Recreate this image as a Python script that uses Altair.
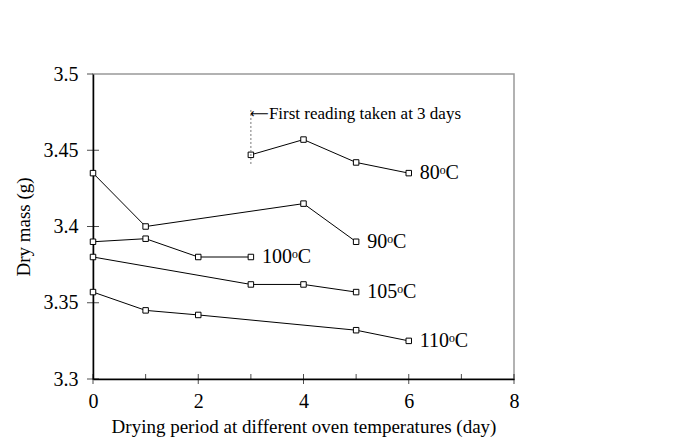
import altair as alt
import pandas as pd

# Data
series_names = ["80ᵒC", "90ᵒC", "100ᵒC", "105ᵒC", "110ᵒC"]
days_80 = [3, 4, 5, 6]
mass_80 = [3.447, 3.457, 3.442, 3.435]
days_90 = [0, 1, 4, 5]
mass_90 = [3.435, 3.400, 3.415, 3.390]
days_100 = [0, 1, 2, 3]
mass_100 = [3.390, 3.392, 3.380, 3.380]
days_105 = [0, 3, 4, 5]
mass_105 = [3.380, 3.362, 3.362, 3.357]
days_110 = [0, 1, 2, 5, 6]
mass_110 = [3.357, 3.345, 3.342, 3.332, 3.325]

x_major_ticks = [0, 2, 4, 6, 8]
x_minor_ticks = [1, 3, 5, 7]
y_cross_ticks = [3.3, 3.35, 3.4, 3.45]
y_outer_ticks = [3.5]

annot_day = [3]
annot_low = [3.441]
annot_high = [3.477]
annot_text_y = [3.474]
annot_text = ["First reading taken at 3 days"]
annot_arrow = ["⟵"]

FONT = "Liberation Serif"

rows = []
for name, ds, ms in zip(series_names,
                        [days_80, days_90, days_100, days_105, days_110],
                        [mass_80, mass_90, mass_100, mass_105, mass_110]):
    for d, m in zip(ds, ms):
        rows.append({"series": name, "day": d, "mass": m})
df = pd.DataFrame(rows)
last = df.groupby("series", sort=False).tail(1)

xs = alt.Scale(domain=[0, 8], nice=False)
ys = alt.Scale(domain=[3.3, 3.5], nice=False, zero=False)

x_enc = alt.X("day:Q", scale=xs,
              axis=alt.Axis(values=x_major_ticks, ticks=False, grid=False, labelFlush=False,
                            title="Drying period at different oven temperatures (day)",
                            labelFont=FONT, labelFontSize=20, labelColor="black",
                            labelPadding=12, titleFont=FONT, titleFontSize=19,
                            titleFontWeight="normal", titleColor="black",
                            titlePadding=6, domainColor="black", domainWidth=1.5))
y_enc = alt.Y("mass:Q", scale=ys,
              axis=alt.Axis(values=[3.3, 3.35, 3.4, 3.45, 3.5], ticks=False, grid=False,
                            labelFlush=False, format="~g", title="Dry mass (g)",
                            labelFont=FONT, labelFontSize=20, labelColor="black",
                            labelPadding=15, titleFont=FONT, titleFontSize=19,
                            titleFontWeight="normal", titleColor="black",
                            titlePadding=10, domainColor="black", domainWidth=1.5))

base = alt.Chart(df)
lines = base.mark_line(color="black", strokeWidth=1).encode(
    x=x_enc, y=y_enc, detail="series:N")
points = base.mark_point(shape="square", filled=True, fill="white", stroke="black",
                         strokeWidth=1, size=30, opacity=1).encode(
    x="day:Q", y="mass:Q")
labels = alt.Chart(last).mark_text(align="left", baseline="middle", dx=11,
                                   font=FONT, fontSize=20, color="black").encode(
    x="day:Q", y="mass:Q", text="series:N")

adf = pd.DataFrame({"day": annot_day, "low": annot_low, "high": annot_high,
                    "ty": annot_text_y, "text": annot_text, "arrow": annot_arrow})
arule = alt.Chart(adf).mark_rule(color="#777", strokeDash=[2, 2], strokeWidth=1).encode(
    x="day:Q", y="low:Q", y2="high:Q")
aarrow = alt.Chart(adf).mark_text(align="left", baseline="middle", dx=-1,
                                  font="DejaVu Sans", fontSize=13, color="black").encode(
    x="day:Q", y="ty:Q", text="arrow:N")
atext = alt.Chart(adf).mark_text(align="left", baseline="middle", dx=18,
                                 font=FONT, fontSize=17, color="black").encode(
    x="day:Q", y="ty:Q", text="text:N")

xmaj = alt.Chart(pd.DataFrame({"day": x_major_ticks, "mass": [3.3] * len(x_major_ticks)})).mark_tick(
    orient="vertical", size=10, thickness=1, color="black").encode(x="day:Q", y="mass:Q")
xmin = alt.Chart(pd.DataFrame({"day": x_minor_ticks, "mass": [3.3] * len(x_minor_ticks)})).mark_tick(
    orient="vertical", size=5, thickness=1, color="black", yOffset=-2.5).encode(x="day:Q", y="mass:Q")
ycross = alt.Chart(pd.DataFrame({"day": [0] * len(y_cross_ticks), "mass": y_cross_ticks})).mark_tick(
    orient="horizontal", size=12, thickness=1, color="black").encode(x="day:Q", y="mass:Q")
youter = alt.Chart(pd.DataFrame({"day": [0] * len(y_outer_ticks), "mass": y_outer_ticks})).mark_tick(
    orient="horizontal", size=6, thickness=1, color="black", xOffset=-3).encode(x="day:Q", y="mass:Q")

chart = alt.layer(lines, points, labels, arule, aarrow, atext, xmaj, xmin, ycross, youter).properties(
    width=421, height=305,
    autosize=alt.AutoSizeParams(type="none"),
    padding={"left": 93, "top": 74, "right": 163, "bottom": 69},
    background="white",
).configure_view(stroke="#999", strokeWidth=1.5)

chart.save("out.html", embed_options={"renderer": "svg", "actions": False})
